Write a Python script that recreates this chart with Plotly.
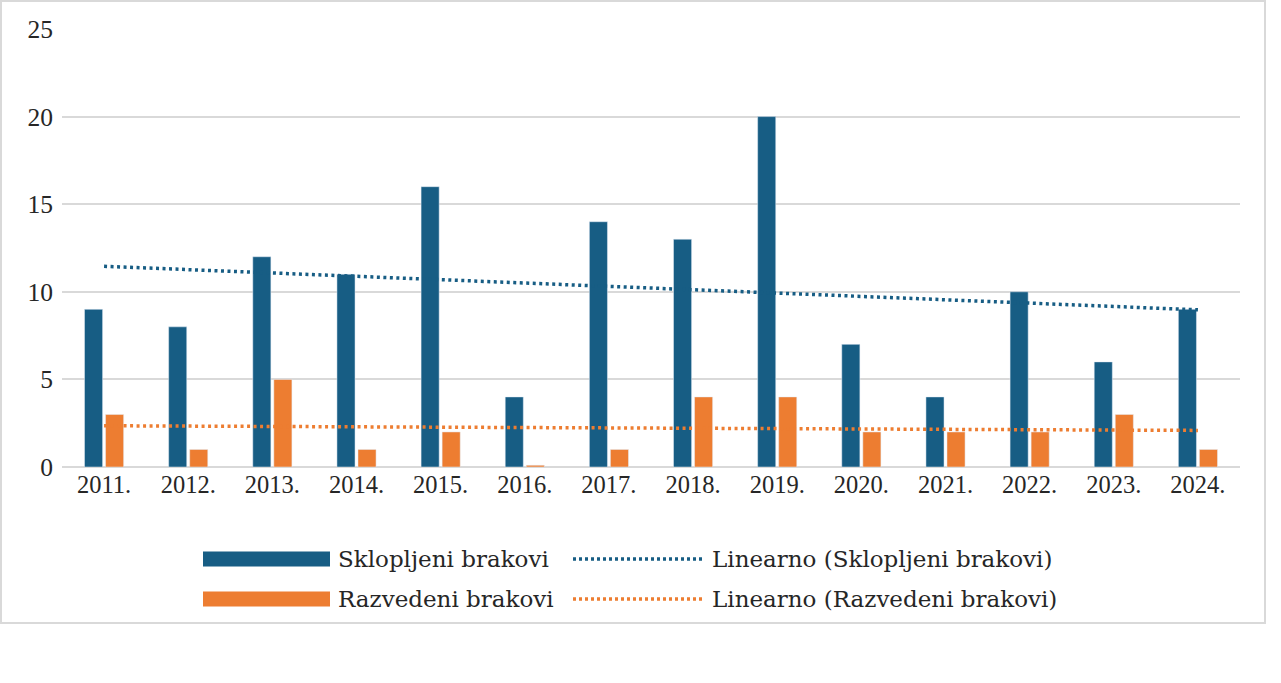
import numpy as np
import plotly.graph_objects as go

years = ["2011.", "2012.", "2013.", "2014.", "2015.", "2016.", "2017.",
         "2018.", "2019.", "2020.", "2021.", "2022.", "2023.", "2024."]
sklopljeni = [9, 8, 12, 11, 16, 4, 14, 13, 20, 7, 4, 10, 6, 9]
razvedeni = [3, 1, 5, 1, 2, 0.1, 1, 4, 4, 2, 2, 2, 3, 1]
y_ticks = [0, 5, 10, 15, 20, 25]

name_s = "Sklopljeni brakovi"
name_r = "Razvedeni brakovi"
name_ts = "Linearno (Sklopljeni brakovi)"
name_tr = "Linearno (Razvedeni brakovi)"

BLUE = "#175d84"
ORANGE = "#ed7d31"
FONT = "Liberation Serif"
LEG_FONT = "DejaVu Serif"
TXT = "#262626"

W, H = 1281, 683
L, R, T, B = 62, 1240, 29, 467  # plot area in px


def px_x(p):
    return (p - L) / (R - L)


def px_y(p):
    return (B - p) / (B - T)


xi = np.arange(1, len(years) + 1)
cs = np.polyfit(xi, sklopljeni, 1)
cr = np.polyfit(xi, razvedeni, 1)
trend_s = np.polyval(cs, xi)
trend_r = np.polyval(cr, xi)

fig = go.Figure()
fig.add_trace(go.Bar(x=years, y=sklopljeni, name=name_s, marker_color=BLUE))
fig.add_trace(go.Bar(x=years, y=razvedeni, name=name_r, marker_color=ORANGE))
fig.add_trace(go.Scatter(x=years, y=trend_s, mode="lines", name=name_ts,
                         line=dict(color=BLUE, width=3.5, dash="3px,3.5px")))
fig.add_trace(go.Scatter(x=years, y=trend_r, mode="lines", name=name_tr,
                         line=dict(color=ORANGE, width=3.5, dash="3px,3.5px")))

shapes = []
annotations = []
# outer border
shapes.append(dict(type="rect", xref="paper", yref="paper",
                   x0=px_x(1), x1=px_x(1265), y0=px_y(623), y1=px_y(1),
                   line=dict(color="#d9d9d9", width=2), layer="below"))

# custom legend
rows = [(559, name_s, name_ts, BLUE), (599, name_r, name_tr, ORANGE)]
for yc, nb, nt, col in rows:
    shapes.append(dict(type="rect", xref="paper", yref="paper",
                       x0=px_x(203), x1=px_x(330), y0=px_y(yc + 7.5), y1=px_y(yc - 7.5),
                       fillcolor=col, line=dict(width=0)))
    shapes.append(dict(type="line", xref="paper", yref="paper",
                       x0=px_x(573), x1=px_x(704), y0=px_y(yc), y1=px_y(yc),
                       line=dict(color=col, width=3.5, dash="3px,3px")))
    annotations.append(dict(xref="paper", yref="paper", x=px_x(336), y=px_y(yc),
                            text=nb, showarrow=False, xanchor="left", yanchor="middle",
                            font=dict(family=LEG_FONT, size=23, color=TXT)))
    annotations.append(dict(xref="paper", yref="paper", x=px_x(710), y=px_y(yc),
                            text=nt, showarrow=False, xanchor="left", yanchor="middle",
                            font=dict(family=LEG_FONT, size=23, color=TXT)))

fig.update_layout(
    width=W, height=H,
    margin=dict(l=L, r=W - R, t=T, b=H - B, pad=0),
    paper_bgcolor="white", plot_bgcolor="white",
    barmode="group", bargap=0.5, bargroupgap=0.14,
    showlegend=False,
    shapes=shapes, annotations=annotations,
    font=dict(family=FONT, color=TXT),
    xaxis=dict(showgrid=False, showline=False, ticks="",
               tickfont=dict(family=FONT, size=24.5, color=TXT)),
    yaxis=dict(range=[0, 25], tickvals=y_ticks, showgrid=True, gridcolor="#d9d9d9",
               gridwidth=1.5, zeroline=True, zerolinecolor="#d9d9d9", zerolinewidth=1.5,
               showline=False, ticks="", ticklabelstandoff=8,
               tickfont=dict(family=FONT, size=25.5, color=TXT)),
)

fig.write_html("out.html", config={"displayModeBar": False},
               post_script="document.body.style.margin='0';")
